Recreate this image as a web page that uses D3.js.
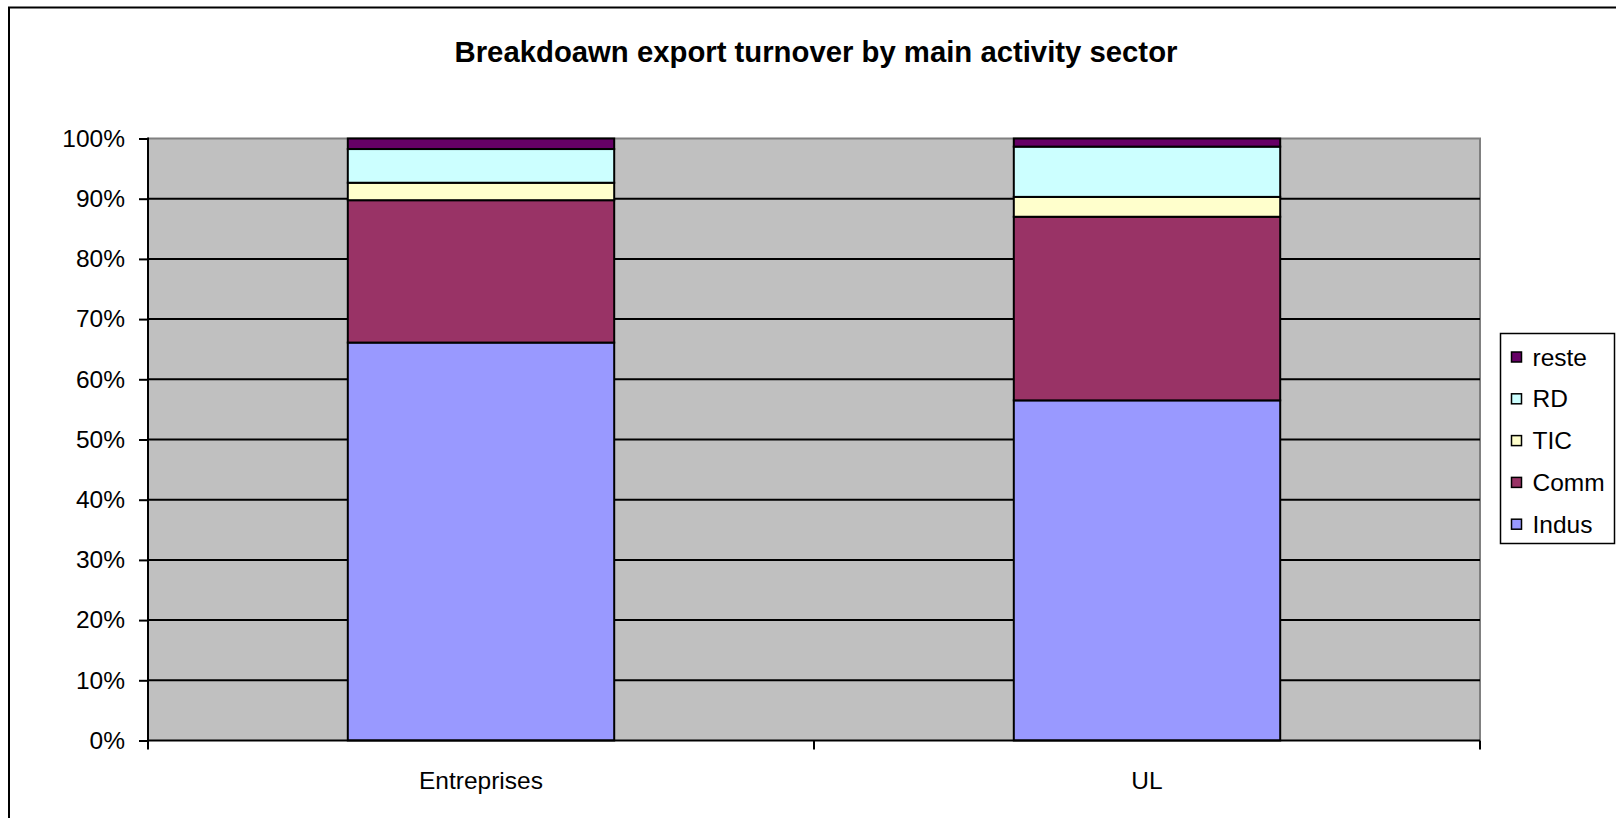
<!DOCTYPE html>
<html>
<head>
<meta charset="utf-8">
<script src="https://cdn.jsdelivr.net/npm/d3@7"></script>
<style>
  body { margin: 0; background: #fff; }
  text { font-family: "Liberation Sans", Arial, sans-serif; fill: #000; }
</style>
</head>
<body>
<div id="chart"></div>
<script>
// size of the page / svg
const width = 1616; const height = 818;
const margin = {top: 138.5, right: 136, bottom: 77.5, left: 148};
const innerWidth = width - margin.left - margin.right;
const innerHeight = height - margin.top - margin.bottom;

// data (percent shares)
const categories = ['Entreprises', 'UL'];
const sectors = ['Indus', 'Comm', 'TIC', 'RD', 'reste'];
const indus = [66.1, 56.5];
const comm  = [23.65, 30.5];
const tic   = [2.9, 3.3];
const rd    = [5.6, 8.35];
const reste = [1.75, 1.35];
const yTicks = [0, 0.1, 0.2, 0.3, 0.4, 0.5, 0.6, 0.7, 0.8, 0.9, 1];

const colors = d3.scaleOrdinal()
    .domain(sectors)
    .range(['#9999ff', '#993366', '#ffffcc', '#ccffff', '#660066']);

const rows = categories.map((c, i) => ({
    cat: c, Indus: indus[i], Comm: comm[i], TIC: tic[i], RD: rd[i], reste: reste[i]
}));
const series = d3.stack().keys(sectors).offset(d3.stackOffsetExpand)(rows);

let svg = d3.select('#chart')
    .append('svg')
        .attr('width', width)
        .attr('height', height)
        .style('display', 'block');

// outer chart border: only top and left edges are inside the picture
svg.append('path')
    .attr('d', `M9,${height}V7.5H${width}`)
    .attr('fill', 'none').attr('stroke', '#000').attr('stroke-width', 2);

svg.append('text')
    .attr('x', 816).attr('y', 62)
    .attr('text-anchor', 'middle')
    .attr('font-size', 29.3).attr('font-weight', 'bold')
    .text('Breakdoawn export turnover by main activity sector');

let plotG = svg.append('g')
    .attr('transform', `translate(${margin.left}, ${margin.top})`);

const x = d3.scaleBand().domain(categories).range([0, innerWidth]);
const barW = x.bandwidth() * 0.4;
const y = d3.scaleLinear().domain([0, 1]).range([innerHeight, 0]);

// plot area background
plotG.append('rect')
    .attr('width', innerWidth).attr('height', innerHeight)
    .attr('fill', '#c0c0c0');
plotG.append('path')
    .attr('d', `M0,0H${innerWidth}V${innerHeight}`)
    .attr('fill', 'none').attr('stroke', '#808080').attr('stroke-width', 2);

// gridlines
plotG.selectAll('.grid')
    .data(yTicks.filter(d => d > 0 && d < 1))
    .join('line')
        .attr('x1', 0).attr('x2', innerWidth)
        .attr('y1', d => y(d)).attr('y2', d => y(d))
        .attr('stroke', '#000').attr('stroke-width', 2);

// stacked bars
plotG.selectAll('.layer')
    .data(series)
    .join('g')
        .attr('fill', d => colors(d.key))
    .selectAll('rect')
    .data(d => d)
    .join('rect')
        .attr('x', d => x(d.data.cat) + (x.bandwidth() - barW) / 2)
        .attr('y', d => y(d[1]))
        .attr('width', barW)
        .attr('height', d => y(d[0]) - y(d[1]))
        .attr('stroke', '#000').attr('stroke-width', 2);

// y axis
const yAxis = plotG.append('g')
    .call(d3.axisLeft(y).tickValues(yTicks).tickFormat(d3.format('.0%')).tickSize(9).tickPadding(14))
    .attr('font-size', 24.5)
    .attr('font-family', '"Liberation Sans", Arial, sans-serif');
yAxis.select('.domain').attr('stroke-width', 2).attr('d', `M0,${-1}V${innerHeight}`);
yAxis.selectAll('.tick line').attr('stroke-width', 2);

// x axis with ticks on the category boundaries
const xAxisG = plotG.append('g').attr('transform', `translate(0,${innerHeight})`);
xAxisG.append('line')
    .attr('x1', 0).attr('x2', innerWidth)
    .attr('stroke', '#000').attr('stroke-width', 2);
xAxisG.selectAll('.xtick')
    .data([0, ...categories.map(c => x(c) + x.bandwidth())])
    .join('line')
        .attr('x1', d => d).attr('x2', d => d)
        .attr('y1', 0).attr('y2', 9)
        .attr('stroke', '#000').attr('stroke-width', 2);
xAxisG.selectAll('.xlabel')
    .data(categories)
    .join('text')
        .attr('x', d => x(d) + x.bandwidth() / 2)
        .attr('y', 48)
        .attr('text-anchor', 'middle')
        .attr('font-size', 24.5)
        .text(d => d);

// legend
const legG = svg.append('g').attr('transform', 'translate(1500.5,333.5)');
legG.append('rect')
    .attr('width', 114).attr('height', 210)
    .attr('fill', '#fff').attr('stroke', '#000').attr('stroke-width', 1.5);
const legItems = legG.selectAll('.leg')
    .data(sectors.slice().reverse())
    .join('g')
        .attr('transform', (d, i) => `translate(11, ${23.5 + i * 41.8})`);
legItems.append('rect')
    .attr('x', 0).attr('y', -5)
    .attr('width', 10).attr('height', 10)
    .attr('fill', d => colors(d))
    .attr('stroke', '#000').attr('stroke-width', 1.5);
legItems.append('text')
    .attr('x', 21).attr('y', 0)
    .attr('dy', '0.35em')
    .attr('font-size', 24.5)
    .text(d => d);
</script>
</body>
</html>
